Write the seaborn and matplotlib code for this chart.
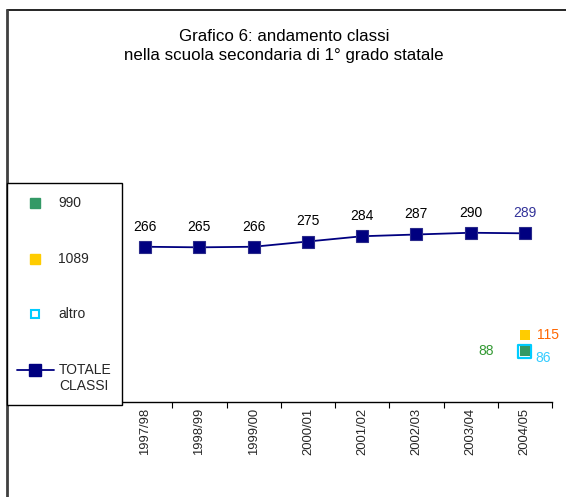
import matplotlib
matplotlib.use("Agg")
import matplotlib.pyplot as plt
from matplotlib.lines import Line2D
from matplotlib.patches import Rectangle
import seaborn as sns
import pandas as pd

# ---- data ----
years = ["1997/98", "1998/99", "1999/00", "2000/01", "2001/02", "2002/03", "2003/04", "2004/05"]
totale_classi = [266, 265, 266, 275, 284, 287, 290, 289]
s990_year = ["2004/05"]
s990_vals = [88]
s1089_year = ["2004/05"]
s1089_vals = [115]
altro_year = ["2004/05"]
altro_vals = [86]
title_text = "Grafico 6: andamento classi\nnella scuola secondaria di 1° grado statale"

sns.set_theme(style="white")
plt.rcParams["font.family"] = ["Liberation Sans", "DejaVu Sans"]

W, H = 566, 497
fig = plt.figure(figsize=(W / 100, H / 100), dpi=100)
fx = lambda x: x / W
fy = lambda y: 1 - y / H

ax = fig.add_axes([fx(118), fy(402), fx(552) - fx(118), fy(81) - fy(402)])

NAVY = "#000080"
GREEN = "#339966"
YELLOW = "#FFCC00"
CYAN = "#00CCFF"
LBL = 10

df_tot = pd.DataFrame({"anno": years, "classi": totale_classi})
sns.lineplot(data=df_tot, x="anno", y="classi", ax=ax, color=NAVY, lw=1.3,
             marker="s", markersize=9, markeredgecolor="#2a2a8a", markeredgewidth=0.8,
             sort=False)

df_1089 = pd.DataFrame({"anno": s1089_year, "v": s1089_vals})
df_990 = pd.DataFrame({"anno": s990_year, "v": s990_vals})
df_altro = pd.DataFrame({"anno": altro_year, "v": altro_vals})
sns.scatterplot(data=df_altro, x="anno", y="v", ax=ax, marker="s", s=85,
                facecolor="none", edgecolor=CYAN, linewidth=1.6, zorder=4)
sns.scatterplot(data=df_990, x="anno", y="v", ax=ax, marker="s", s=45,
                color=GREEN, edgecolor=GREEN, linewidth=0, zorder=5)
sns.scatterplot(data=df_1089, x="anno", y="v", ax=ax, marker="s", s=60,
                color=YELLOW, edgecolor=YELLOW, linewidth=0, zorder=5)

ax.set_xlim(-0.5, len(years) - 0.5)
ax.set_ylim(0, 550)

# data labels
for i, v in enumerate(totale_classi):
    col = "#333399" if i == len(years) - 1 else "black"
    ax.annotate(str(v), (i, v), xytext=(0, 14.5), textcoords="offset points",
                ha="center", va="center", fontsize=LBL, color=col)
ix = years.index(s990_year[0])
ax.annotate(str(s990_vals[0]), (ix, s990_vals[0]), xytext=(-28, 0), textcoords="offset points",
            ha="center", va="center", fontsize=LBL, color="#339933")
ix = years.index(s1089_year[0])
ax.annotate(str(s1089_vals[0]), (ix, s1089_vals[0]), xytext=(16.5, 0), textcoords="offset points",
            ha="center", va="center", fontsize=LBL, color="#FF6600")
ix = years.index(altro_year[0])
ax.annotate(str(altro_vals[0]), (ix, altro_vals[0]), xytext=(13.5, -4.5), textcoords="offset points",
            ha="center", va="center", fontsize=LBL, color="#33CCFF")

# axes styling
for sp in ["left", "right", "top"]:
    ax.spines[sp].set_visible(False)
ax.spines["bottom"].set_color("black")
ax.spines["bottom"].set_linewidth(1.0)
ax.set_yticks([])
ax.set_xlabel("")
ax.set_ylabel("")
ax.set_xticks([i + 0.5 for i in range(len(years))])
ax.set_xticklabels([])
ax.set_xticks(range(len(years)), minor=True)
ax.set_xticklabels(years, minor=True, rotation=90, fontsize=9.4)
ax.tick_params(axis="x", which="major", direction="out", length=4, width=0.8, color="black", bottom=True)
ax.tick_params(axis="x", which="minor", length=0, pad=4, bottom=True)

# title
fig.text(fx(284), fy(46), title_text, ha="center", va="center", fontsize=12.2,
         linespacing=1.32, color="black")

# outer chart border (top and left)
fig.add_artist(Line2D([fx(7), 1], [fy(10), fy(10)], color="black", lw=1.2))
fig.add_artist(Line2D([fx(7), fx(7)], [fy(10), 0], color="#404040", lw=2))

# legend box
fig.add_artist(Rectangle((fx(7), fy(405)), fx(122) - fx(7), fy(183) - fy(405),
                         transform=fig.transFigure, fill=True, facecolor="white",
                         edgecolor="black", lw=1, zorder=3))
leg_items = [("990", 203), ("1089", 259), ("altro", 314)]
fig.add_artist(Line2D([fx(35)], [fy(203)], marker="s", markersize=6.5, color=GREEN, lw=0, zorder=4))
fig.add_artist(Line2D([fx(35)], [fy(259)], marker="s", markersize=6.5, color=YELLOW, lw=0, zorder=4))
fig.add_artist(Line2D([fx(35)], [fy(314)], marker="s", markersize=6, markerfacecolor="white",
                      markeredgecolor=CYAN, markeredgewidth=1.5, lw=0, zorder=4))
for lab, yy in leg_items:
    fig.text(fx(58), fy(yy), lab, ha="left", va="center", fontsize=LBL, zorder=5)
fig.add_artist(Line2D([fx(17), fx(54)], [fy(370), fy(370)], color=NAVY, lw=1.3, zorder=4))
fig.add_artist(Line2D([fx(35)], [fy(370)], marker="s", markersize=8, color=NAVY, lw=0, zorder=5))
fig.text(fx(59), fy(363), "TOTALE\nCLASSI", ha="left", va="top", fontsize=LBL,
         linespacing=1.2, zorder=5)

fig.savefig("out.png", dpi=100)
